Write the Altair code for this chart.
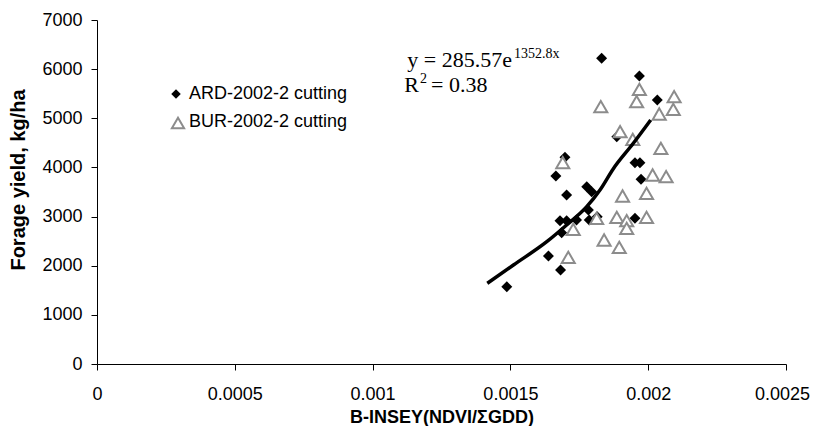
import altair as alt
import pandas as pd

# ARD-2002-2 cutting (filled diamonds)
ard_x = [0.001831, 0.001968, 0.002033, 0.001886, 0.001698, 0.001952, 0.001970, 0.001665,
         0.001974, 0.001777, 0.001795, 0.001704, 0.001783, 0.001786, 0.001815, 0.001680,
         0.001704, 0.001740, 0.001686, 0.001952, 0.001638, 0.001682, 0.001487]
ard_y = [6221, 5861, 5372, 4626, 4206, 4097, 4097, 3826,
         3758, 3608, 3506, 3439, 3134, 2930, 2997, 2916,
         2916, 2930, 2672, 2965, 2198, 1913, 1573]

# BUR-2002-2 cutting (open triangles)
bur_x = [0.001968, 0.001958, 0.001828, 0.002094, 0.002091, 0.002040, 0.001898, 0.001944,
         0.002046, 0.001690, 0.002016, 0.002065, 0.001907, 0.001994, 0.001813, 0.001728,
         0.001886, 0.001922, 0.001922, 0.001994, 0.001840, 0.001895, 0.001710]
bur_y = [5590, 5338, 5236, 5440, 5183, 5087, 4727, 4572,
         4389, 4097, 3846, 3812, 3419, 3474, 2965, 2740,
         2985, 2916, 2760, 2985, 2523, 2374, 2171]

# exponential trendline
fit_x = [0.001416, 0.001511, 0.001632, 0.001704, 0.001777, 0.001825, 0.001873, 0.001946, 0.002009]
fit_y = [1642, 2015, 2489, 2829, 3201, 3541, 3970, 4491, 4965]

x_ticks = [0, 0.0005, 0.001, 0.0015, 0.002, 0.0025]
y_ticks = [0, 1000, 2000, 3000, 4000, 5000, 6000, 7000]

legend_labels = ["ARD-2002-2 cutting", "BUR-2002-2 cutting"]
eq_line1 = "y = 285.57e"
eq_line1_sup = "1352.8x"
eq_line2_a = "R"
eq_line2_sup = "2"
eq_line2_b = "= 0.38"

SANS = "Liberation Sans"
SERIF = "Liberation Serif"

ard = pd.DataFrame({"x": ard_x, "y": ard_y})
bur = pd.DataFrame({"x": bur_x, "y": bur_y})
fit = pd.DataFrame({"x": fit_x, "y": fit_y})

x_axis = alt.Axis(values=x_ticks, format="~g", grid=False, title="B-INSEY(NDVI/ΣGDD)",
                  titleFontWeight="bold", titleFontSize=18, titleFont=SANS, titleColor="black",
                  titleX=344.5, titleY=58, titleBaseline="alphabetic", titleAlign="center",
                  labelFontSize=18, labelFont=SANS, labelColor="black", labelPadding=15,
                  labelOffset={"condition": {"test": "datum.value >= 0.0025", "value": -4}, "value": 0},
                  tickSize=6, tickColor="black", domainColor="black", labelFlush=False)
y_axis = alt.Axis(values=y_ticks, format="d", grid=False, title="Forage yield, kg/ha",
                  titleFontWeight="bold", titleFontSize=20, titleFont=SANS, titleColor="black",
                  titleX=-79, titleY=159.5, titleAngle=-90, titleBaseline="middle", titleAlign="center",
                  labelFontSize=18, labelFont=SANS, labelColor="black", labelPadding=9,
                  tickSize=6, tickColor="black", domainColor="black", labelFlush=False)

xs = alt.Scale(domain=[0, 0.0025], nice=False, zero=False)
ys = alt.Scale(domain=[0, 7000], nice=False, zero=False)

X = alt.X("x:Q", scale=xs, axis=x_axis)
Y = alt.Y("y:Q", scale=ys, axis=y_axis)

ard_layer = alt.Chart(ard).mark_point(shape="diamond", filled=True, color="black",
                                      size=120, opacity=1).encode(x=X, y=Y)
bur_layer = alt.Chart(bur).mark_point(shape="triangle-up", filled=True, fill="white",
                                      stroke="#8c8c8c", strokeWidth=2, size=170,
                                      opacity=1).encode(x=X, y=Y)
fit_layer = alt.Chart(fit).mark_line(color="black", strokeWidth=3.5,
                                     interpolate="monotone").encode(x=X, y=Y)

# legend (manual)
leg_sym1 = alt.Chart(pd.DataFrame({"k": [legend_labels[0]]})).mark_point(
    shape="diamond", filled=True, color="black", size=90, opacity=1
).encode(x=alt.value(79), y=alt.value(74))
leg_sym2 = alt.Chart(pd.DataFrame({"k": [legend_labels[1]]})).mark_point(
    shape="triangle-up", filled=True, fill="white", stroke="#8c8c8c", strokeWidth=2,
    size=150, opacity=1
).encode(x=alt.value(81), y=alt.value(103))
leg_txt = alt.Chart(pd.DataFrame({"t": legend_labels, "py": [74, 102]})).mark_text(
    align="left", baseline="middle", font=SANS, fontSize=18, color="black"
).encode(x=alt.value(92), y=alt.Y("py:Q", scale=None), text="t:N")

def txt(s, px, py, size, align="left"):
    return alt.Chart(pd.DataFrame({"t": [s]})).mark_text(
        align=align, baseline="alphabetic", font=SERIF, fontSize=size, color="black"
    ).encode(x=alt.value(px), y=alt.value(py), text="t:N")

eq = (txt(eq_line1, 415, 47, 22, "right") + txt(eq_line1_sup, 417, 38, 14) +
      txt(eq_line2_a, 322, 72, 22, "right") + txt(eq_line2_sup, 323, 63, 14) +
      txt(eq_line2_b, 334, 72, 22))

chart = alt.layer(ard_layer, bur_layer, fit_layer, leg_sym1, leg_sym2, leg_txt, eq).properties(
    width=689, height=344,
    padding={"left": 89, "top": 12, "right": 24, "bottom": 62},
    autosize=alt.AutoSizeParams(type="none"),
    background="white",
).configure_view(stroke=None)

chart.save("out.html", embed_options={"renderer": "svg", "actions": False})
